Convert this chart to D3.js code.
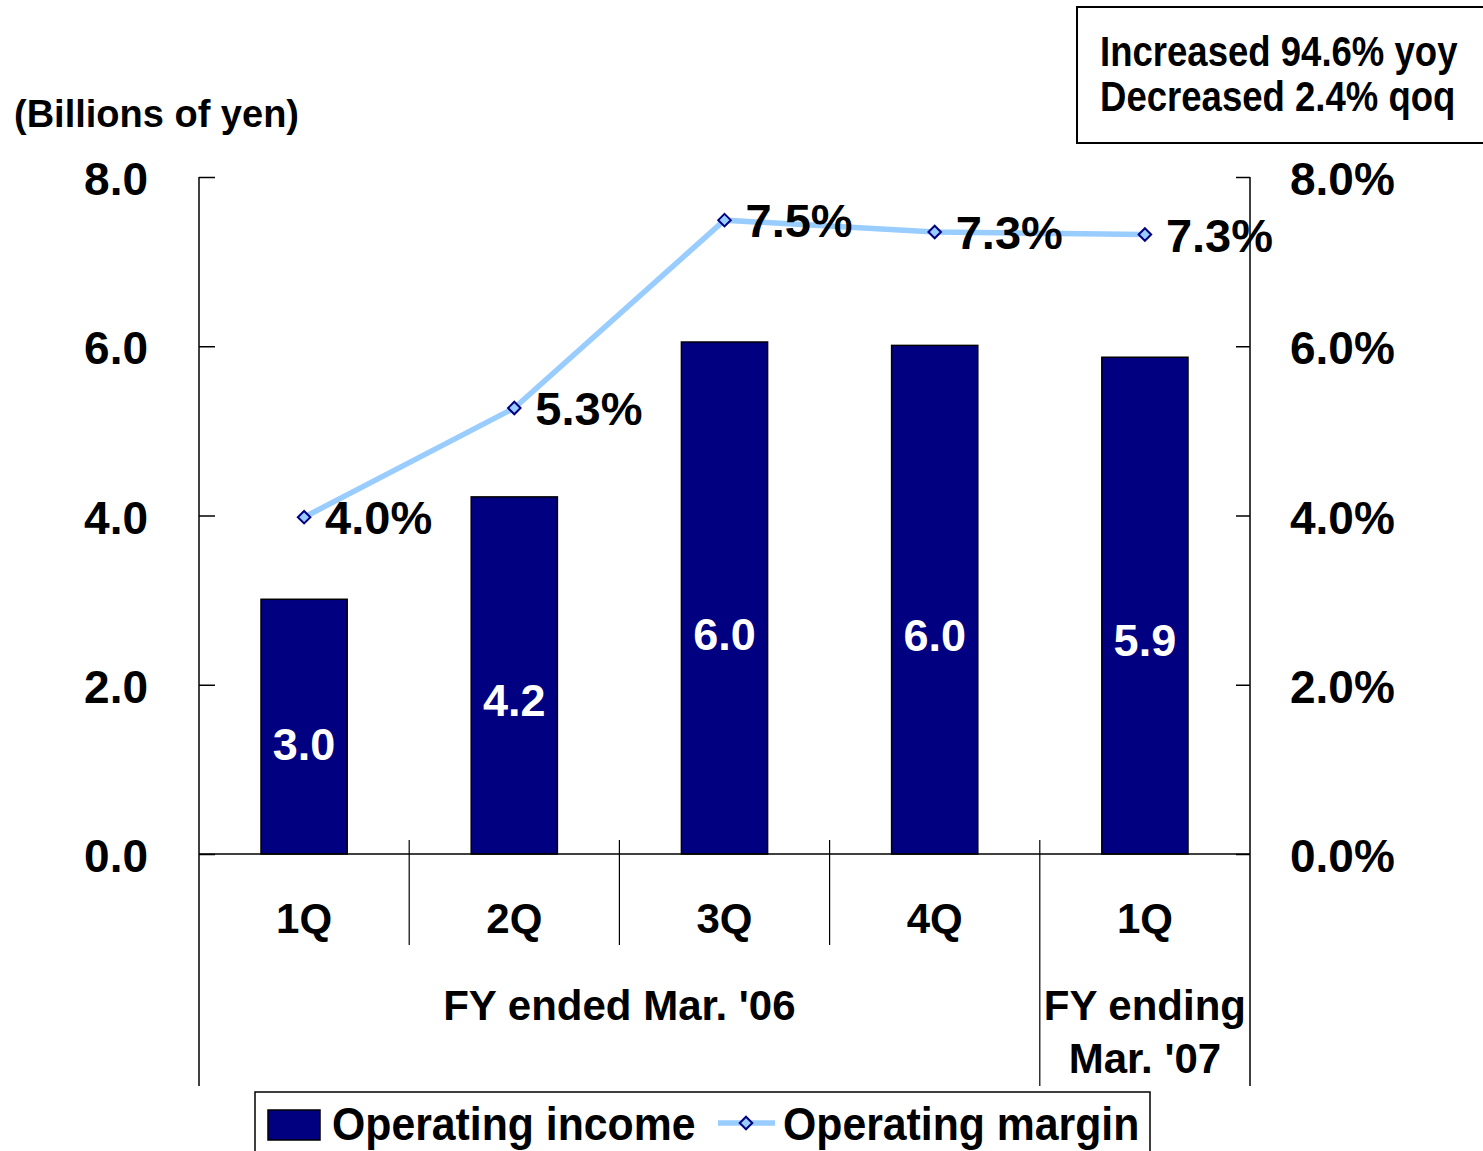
<!DOCTYPE html>
<head>
    <title>Operating income and operating margin</title>
    <style>
        body {
            margin: 0;
            background: #ffffff;
        }

        text {
            font-family: "Liberation Sans", Arial, sans-serif;
            font-weight: bold;
            fill: #000000;
        }
    </style>
</head>

<body>

<script src="https://cdn.jsdelivr.net/npm/d3@7"></script>

<script type="text/javascript">
    // chart data
    var quarters = ["1Q", "2Q", "3Q", "4Q", "1Q"]
    var operatingIncome = [3.0, 4.2, 6.0, 6.0, 5.9]
    var incomeHeights = [3.01, 4.22, 6.05, 6.01, 5.87]
    var operatingMargin = [4.0, 5.3, 7.5, 7.3, 7.3]
    var marginHeights = [3.98, 5.27, 7.49, 7.35, 7.32]
    var leftTicks = [0, 2, 4, 6, 8]
    var fiscalGroups = ["FY ended Mar. '06", "FY ending|Mar. '07"]
    var groupSpans = [[0, 4], [4, 5]]

    var frameWidth = 1483
    var frameHeight = 1151
    var plotLeft = 199
    var plotRight = 1250
    var plotTop = 177
    var plotBottom = 854
    var navy = "#000080"
    var lightBlue = "#99ccff"

    var svg = d3.select("body")
        .append("svg")
        .attr("width", frameWidth)
        .attr("height", frameHeight)

    // scales
    var x = d3.scaleBand()
        .domain(d3.range(quarters.length))
        .range([plotLeft, plotRight])
        .paddingInner(0.59)
        .paddingOuter(0.295)

    var step = (plotRight - plotLeft) / quarters.length
    var y = d3.scaleLinear()
        .domain([0, 8])
        .range([plotBottom, plotTop])

    // bars
    svg.selectAll("rect.bar")
        .data(incomeHeights)
        .enter()
        .append("rect")
        .attr("class", "bar")
        .attr("x", function (d, i) { return x(i) })
        .attr("y", function (d) { return y(d) })
        .attr("width", x.bandwidth())
        .attr("height", function (d) { return y(0) - y(d) })
        .attr("fill", navy)
        .attr("stroke", "#000000")
        .attr("stroke-width", 1.5)

    // bar value labels
    svg.selectAll("text.barlabel")
        .data(operatingIncome)
        .enter()
        .append("text")
        .attr("class", "barlabel")
        .attr("x", function (d, i) { return x(i) + x.bandwidth() / 2 })
        .attr("y", function (d, i) { return y(incomeHeights[i] * 0.43) + 16 })
        .attr("text-anchor", "middle")
        .style("font-size", "45px")
        .style("fill", "#ffffff")
        .text(function (d) { return d.toFixed(1) })

    // left axis
    var yAxisLeft = d3.axisLeft(y)
        .tickValues(leftTicks)
        .tickSize(-16)
        .tickFormat("")
    svg.append("g")
        .attr("transform", "translate(" + plotLeft + ",0)")
        .call(yAxisLeft)
        .call(function (g) {
            g.select(".domain").remove()
            g.selectAll("line").attr("stroke", "#000").attr("stroke-width", 1.5)
        })

    svg.selectAll("text.lefttick")
        .data(leftTicks)
        .enter()
        .append("text")
        .attr("class", "lefttick")
        .attr("x", 148)
        .attr("y", function (d) { return y(d) + 18 })
        .attr("text-anchor", "end")
        .style("font-size", "46px")
        .text(function (d) { return d.toFixed(1) })

    // right axis
    var yAxisRight = d3.axisRight(y)
        .tickValues(leftTicks)
        .tickSize(-14)
        .tickFormat("")
    svg.append("g")
        .attr("transform", "translate(" + plotRight + ",0)")
        .call(yAxisRight)
        .call(function (g) {
            g.select(".domain").remove()
            g.selectAll("line").attr("stroke", "#000").attr("stroke-width", 1.5)
        })

    svg.selectAll("text.righttick")
        .data(leftTicks)
        .enter()
        .append("text")
        .attr("class", "righttick")
        .attr("x", 1290)
        .attr("y", function (d) { return y(d) + 18 })
        .style("font-size", "46px")
        .text(function (d) { return d.toFixed(1) + "%" })

    // axis frame lines
    svg.append("line")
        .attr("x1", plotLeft).attr("x2", plotLeft)
        .attr("y1", plotTop).attr("y2", 1086)
        .attr("stroke", "#000").attr("stroke-width", 1.5)
    svg.append("line")
        .attr("x1", plotRight).attr("x2", plotRight)
        .attr("y1", plotTop).attr("y2", 1086)
        .attr("stroke", "#000").attr("stroke-width", 1.5)
    svg.append("line")
        .attr("x1", plotLeft).attr("x2", plotRight)
        .attr("y1", y(0)).attr("y2", y(0))
        .attr("stroke", "#000").attr("stroke-width", 1.5)

    // category separators
    d3.range(1, quarters.length).forEach(function (i) {
        var sx = plotLeft + step * i
        var isGroupEdge = groupSpans.some(function (s) { return s[0] === i })
        svg.append("line")
            .attr("x1", sx).attr("x2", sx)
            .attr("y1", y(0) - 14).attr("y2", isGroupEdge ? 1086 : 945)
            .attr("stroke", "#000").attr("stroke-width", 1.2)
    })

    // quarter labels
    svg.selectAll("text.quarter")
        .data(quarters)
        .enter()
        .append("text")
        .attr("class", "quarter")
        .attr("x", function (d, i) { return x(i) + x.bandwidth() / 2 })
        .attr("y", 933)
        .attr("text-anchor", "middle")
        .style("font-size", "42px")
        .text(function (d) { return d })

    // fiscal year labels
    fiscalGroups.forEach(function (label, gi) {
        var cx = plotLeft + step * (groupSpans[gi][0] + groupSpans[gi][1]) / 2
        var t = svg.append("text")
            .attr("x", cx)
            .attr("y", 1020)
            .attr("text-anchor", "middle")
            .style("font-size", "42px")
        label.split("|").forEach(function (line, li) {
            t.append("tspan")
                .attr("x", cx)
                .attr("dy", li === 0 ? 0 : 53)
                .text(line)
        })
    })

    // margin line
    var line = d3.line()
        .x(function (d, i) { return x(i) + x.bandwidth() / 2 })
        .y(function (d) { return y(d) })

    svg.append("path")
        .datum(marginHeights)
        .attr("d", line)
        .attr("fill", "none")
        .attr("stroke", lightBlue)
        .attr("stroke-width", 5.5)

    var diamond = d3.symbol().type(d3.symbolDiamond2).size(100)

    svg.selectAll("path.marker")
        .data(marginHeights)
        .enter()
        .append("path")
        .attr("class", "marker")
        .attr("d", diamond)
        .attr("transform", function (d, i) {
            return "translate(" + (x(i) + x.bandwidth() / 2) + "," + y(d) + ")"
        })
        .attr("fill", lightBlue)
        .attr("stroke", navy)
        .attr("stroke-width", 2)

    svg.selectAll("text.marginlabel")
        .data(operatingMargin)
        .enter()
        .append("text")
        .attr("class", "marginlabel")
        .attr("x", function (d, i) { return x(i) + x.bandwidth() / 2 + 21 })
        .attr("y", function (d, i) { return y(marginHeights[i]) + 17 })
        .style("font-size", "47px")
        .text(function (d) { return d.toFixed(1) + "%" })

    // unit label
    svg.append("text")
        .attr("x", 14)
        .attr("y", 127)
        .style("font-size", "38px")
        .text("(Billions of yen)")

    // annotation box
    svg.append("rect")
        .attr("x", 1077)
        .attr("y", 7)
        .attr("width", 420)
        .attr("height", 136)
        .attr("fill", "#ffffff")
        .attr("stroke", "#000")
        .attr("stroke-width", 2)

    var notes = ["Increased 94.6% yoy", "Decreased 2.4% qoq"]
    notes.forEach(function (n, i) {
        svg.append("text")
            .attr("transform", "translate(1100," + (66 + i * 45) + ") scale(0.87,1)")
            .style("font-size", "42px")
            .text(n)
    })

    // legend
    svg.append("rect")
        .attr("x", 255)
        .attr("y", 1092)
        .attr("width", 895)
        .attr("height", 80)
        .attr("fill", "#ffffff")
        .attr("stroke", "#000")
        .attr("stroke-width", 1.5)

    svg.append("rect")
        .attr("x", 268)
        .attr("y", 1110)
        .attr("width", 52)
        .attr("height", 30)
        .attr("fill", navy)
        .attr("stroke", "#000")
        .attr("stroke-width", 1.5)

    svg.append("text")
        .attr("transform", "translate(332,1140) scale(0.91,1)")
        .style("font-size", "47px")
        .text("Operating income")

    svg.append("line")
        .attr("x1", 718).attr("x2", 775)
        .attr("y1", 1123).attr("y2", 1123)
        .attr("stroke", lightBlue)
        .attr("stroke-width", 5.5)

    svg.append("path")
        .attr("d", diamond)
        .attr("transform", "translate(746,1123)")
        .attr("fill", lightBlue)
        .attr("stroke", navy)
        .attr("stroke-width", 2)

    svg.append("text")
        .attr("transform", "translate(783,1140) scale(0.91,1)")
        .style("font-size", "47px")
        .text("Operating margin")

</script>

</body>
